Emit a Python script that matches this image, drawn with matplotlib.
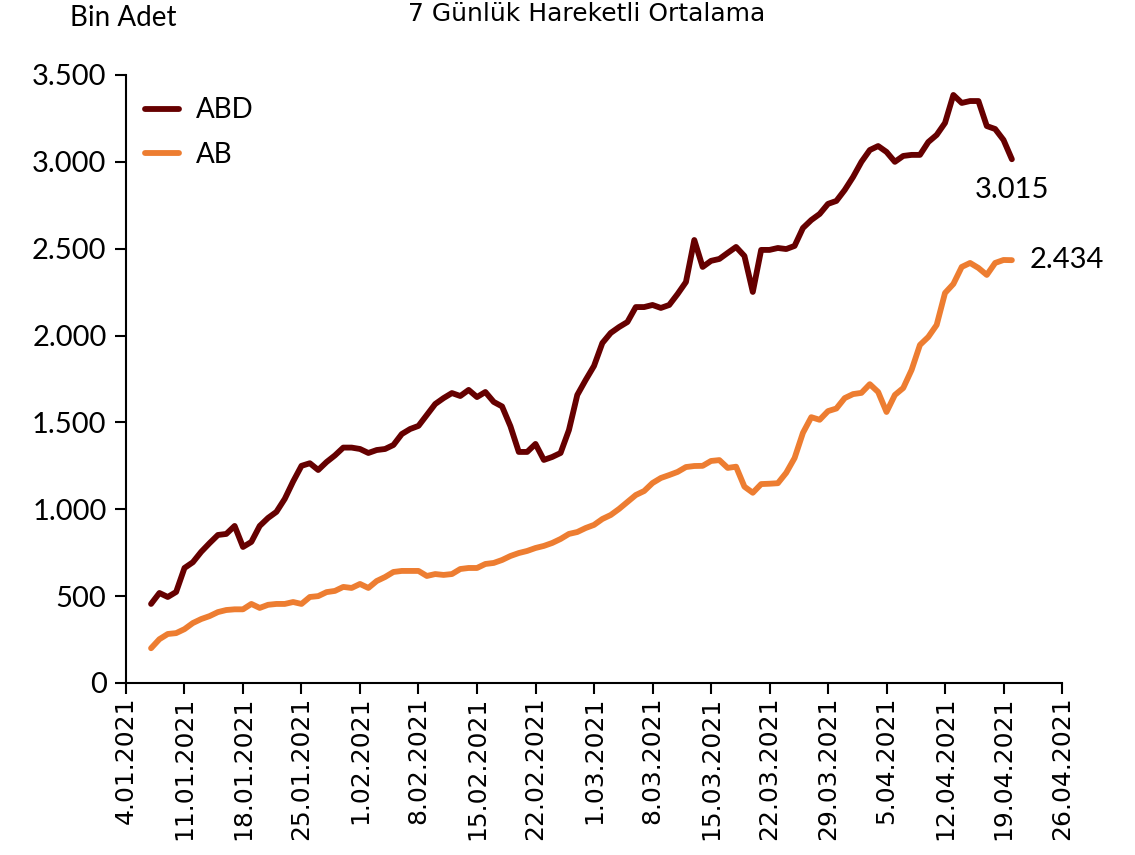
import matplotlib
matplotlib.use("Agg")
import matplotlib.pyplot as plt
import pandas as pd

# daily 7-day moving averages, thousands, 7.01.2021 - 20.04.2021
dates = pd.date_range("2021-01-07", "2021-04-20", freq="D")

abd = [455, 518, 495, 524, 662, 695, 755, 805, 852, 858, 904, 783, 812, 904, 950, 985,
       1060, 1160, 1250, 1265, 1226, 1272, 1310, 1355, 1355,
       1347, 1324, 1341, 1347, 1370, 1433, 1462, 1480, 1543, 1606, 1640, 1669, 1652, 1687,
       1646, 1675, 1618, 1592, 1478, 1330, 1330, 1376, 1284, 1301, 1324, 1456, 1658, 1744,
       1825, 1957, 2015, 2049, 2078, 2164, 2164, 2176, 2159, 2176, 2239, 2308, 2550, 2395,
       2430, 2441, 2476, 2510, 2458, 2251, 2493, 2493, 2504, 2498, 2516, 2619, 2665, 2700,
       2758, 2775, 2838,
       2913, 3000, 3068, 3091, 3057, 3000, 3034, 3040, 3040, 3114, 3155, 3224, 3385, 3339,
       3350, 3350, 3206, 3189, 3126, 3015]

ab = [200, 252, 282, 287, 310, 345, 368, 385, 408, 420, 424, 424, 455, 432, 450, 455,
      455, 466, 455, 495, 500, 523, 530, 553, 547,
      570, 547, 587, 610, 639, 645, 645, 645, 616, 627, 622, 627, 656, 662, 662, 685, 691,
      708, 731, 748, 760, 777, 789, 806, 829, 858, 869, 892,
      910, 944, 967, 1002, 1042, 1082, 1105, 1151, 1180, 1197, 1215, 1243, 1249, 1250, 1278,
      1283, 1238, 1245, 1130, 1095, 1145, 1147, 1150, 1210, 1295, 1440, 1530, 1515, 1565,
      1580, 1640,
      1663, 1670, 1720, 1675, 1560, 1658, 1698, 1802, 1946, 1992, 2061, 2245, 2297, 2395,
      2418, 2389, 2349, 2418, 2435, 2434]

series_names = ["ABD", "AB"]
colors = ["#660000", "#ED7D31"]

label_font = "Lato"

fig = plt.figure(figsize=(11.35, 8.55), dpi=100)
ax = fig.add_axes([0.111, 0.2012, 0.8247, 0.7111])

ax.plot(dates, abd, color=colors[0], lw=4.2, label=series_names[0], solid_capstyle="round")
ax.plot(dates, ab, color=colors[1], lw=4.2, label=series_names[1], solid_capstyle="round")

ax.set_xlim(pd.Timestamp("2021-01-04"), pd.Timestamp("2021-04-26"))
ax.set_ylim(0, 3500)
ax.set_yticks(range(0, 3501, 500))
ax.set_yticklabels([f"{v:,}".replace(",", ".") for v in range(0, 3501, 500)],
                   fontsize=21, family=label_font)

ticks = pd.date_range("2021-01-04", "2021-04-26", freq="7D")
ax.set_xticks(ticks)
ax.set_xticklabels([f"{d.day}.{d.month:02d}.{d.year}" for d in ticks],
                   rotation=90, fontsize=18, family="DejaVu Sans")

for side in ["top", "right"]:
    ax.spines[side].set_visible(False)
for side in ["left", "bottom"]:
    ax.spines[side].set_linewidth(1.5)
ax.tick_params(axis="both", direction="out", width=1.5, length=8, colors="black")
ax.tick_params(axis="y", pad=6)
ax.tick_params(axis="x", pad=2)

# end-of-series labels
ax.annotate(f"{abd[-1]:,}".replace(",", "."), (dates[-1], abd[-1]), xytext=(0, -22),
            textcoords="offset points", ha="center", va="center",
            fontsize=21, family=label_font)
ax.annotate(f"{ab[-1]:,}".replace(",", "."), (dates[-1], ab[-1]), xytext=(13, 0),
            textcoords="offset points", ha="left", va="center",
            fontsize=21, family=label_font)

leg = ax.legend(loc="upper left", frameon=False, fontsize=20, handlelength=1.2,
                handletextpad=0.6, borderaxespad=0.3, labelspacing=0.65,
                bbox_to_anchor=(0.0, 0.995))
for t in leg.get_texts():
    t.set_family(label_font)

fig.text(0.062, 1 - 26 / 855, "Bin Adet", fontsize=20, family=label_font, va="baseline")
fig.text(0.517, 1 - 21 / 855, "7 Günlük Hareketli Ortalama", fontsize=18,
         family="DejaVu Sans", ha="center", va="baseline")

fig.savefig("out.png", dpi=100)
